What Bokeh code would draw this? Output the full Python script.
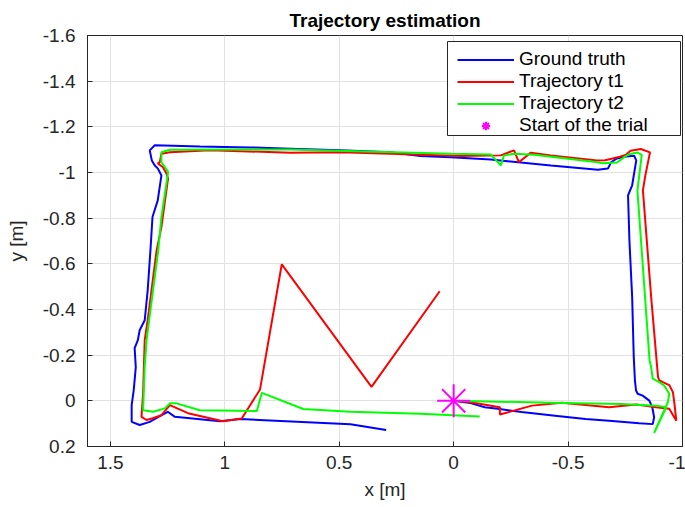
from bokeh.plotting import figure
from bokeh.models import Range1d, FixedTicker, Legend, LegendItem, BoxAnnotation
from bokeh.embed import file_html
from bokeh.resources import INLINE

# ---- data (metres) ----
gt_x = [0.0, -0.074, -0.136, -0.193, -0.297, -0.443, -0.576, -0.679, -0.811, -0.870,
        -0.876, -0.868, -0.855, -0.826, -0.804, -0.797, -0.792, -0.787, -0.780, -0.768,
        -0.762, -0.780, -0.798, -0.789, -0.744, -0.710, -0.688, -0.674, -0.630, -0.425,
        -0.162, 0.013, 0.145, 0.276, 0.495, 0.714, 0.890, 1.109, 1.306, 1.328,
        1.319, 1.306, 1.293, 1.277, 1.293, 1.316, 1.325, 1.337, 1.350, 1.372,
        1.380, 1.394, 1.389, 1.398, 1.407, 1.407, 1.372, 1.328, 1.284, 1.249,
        1.218, 1.021, 0.933, 0.451, 0.295]
gt_y = [0.0, 0.010, 0.028, 0.035, 0.049, 0.065, 0.080, 0.087, 0.098, 0.102,
        0.072, 0.028, -0.001, -0.023, -0.031, -0.045, -0.091, -0.192, -0.455, -0.703,
        -0.900, -0.944, -1.053, -1.073, -1.069, -1.060, -1.045, -1.017, -1.012, -1.031,
        -1.057, -1.067, -1.072, -1.089, -1.097, -1.104, -1.110, -1.114, -1.119, -1.097,
        -1.053, -1.031, -1.018, -0.987, -0.878, -0.805, -0.659, -0.484, -0.353, -0.309,
        -0.266, -0.231, -0.147, -0.047, 0.019, 0.092, 0.106, 0.092, 0.067, 0.048,
        0.070, 0.089, 0.080, 0.103, 0.128]

t1_x = [0.0, -0.074, -0.202, -0.202, -0.342, -0.473, -0.679, -0.798, -0.885, -0.942,
        -0.973, -0.964, -0.958, -0.942, -0.914, -0.898, -0.893, -0.863, -0.827, -0.837,
        -0.858, -0.818, -0.773, -0.751, -0.727, -0.662, -0.627, -0.425, -0.337, -0.285,
        -0.264, -0.206, -0.031, 0.276, 0.495, 0.714, 1.065, 1.240, 1.277, 1.284,
        1.293, 1.271, 1.255, 1.248, 1.277, 1.298, 1.337, 1.350, 1.357, 1.364,
        1.342, 1.315, 1.277, 1.240, 1.161, 1.008, 0.926, 0.846, 0.751, 0.359,
        0.061]
t1_y = [0.0, 0.006, 0.028, 0.060, 0.021, 0.008, 0.028, 0.016, 0.028, 0.035,
        0.087, 0.006, -0.038, -0.069, -0.082, -0.091, -0.105, -0.455, -0.922, -0.984,
        -1.088, -1.103, -1.095, -1.077, -1.069, -1.054, -1.053, -1.075, -1.087, -1.045,
        -1.097, -1.075, -1.072, -1.082, -1.089, -1.087, -1.097, -1.089, -1.082, -1.045,
        -1.040, -1.024, -0.996, -0.974, -0.761, -0.659, -0.353, -0.266, -0.034, 0.070,
        0.084, 0.076, 0.063, 0.019, 0.054, 0.089, 0.077, -0.050, -0.598, -0.061,
        -0.480]

t2_x = [0.0, -0.421, -0.732, -0.885, -0.929, -0.876, -0.936, -0.942, -0.920, -0.898,
        -0.870, -0.863, -0.856, -0.803, -0.822, -0.802, -0.766, -0.744, -0.714, -0.647,
        -0.630, -0.351, -0.264, -0.220, -0.206, -0.162, 0.013, 0.714, 1.240, 1.277,
        1.277, 1.262, 1.248, 1.255, 1.277, 1.291, 1.342, 1.350, 1.357, 1.313,
        1.262, 1.240, 1.211, 1.109, 0.860, 0.838, 0.657, 0.451, 0.145, -0.114]
t2_y = [0.0, 0.008, 0.014, 0.021, 0.028, 0.141, 0.006, -0.031, -0.067, -0.082,
        -0.097, -0.147, -0.178, -0.922, -1.077, -1.088, -1.080, -1.066, -1.044, -1.040,
        -1.045, -1.078, -1.082, -1.075, -1.031, -1.079, -1.082, -1.101, -1.100, -1.089,
        -1.045, -1.024, -1.002, -0.952, -0.805, -0.659, -0.266, -0.149, 0.041, 0.048,
        0.033, 0.011, 0.011, 0.041, 0.045, -0.035, 0.036, 0.048, 0.057, 0.069]

start_x = [0.0]
start_y = [0.0]

x_ticks = [1.5, 1.0, 0.5, 0.0, -0.5, -1.0]
x_tick_labels = ["1.5", "1", "0.5", "0", "-0.5", "-1"]
y_ticks = [-1.6, -1.4, -1.2, -1.0, -0.8, -0.6, -0.4, -0.2, 0.0, 0.2]
y_tick_labels = ["-1.6", "-1.4", "-1.2", "-1", "-0.8", "-0.6", "-0.4", "-0.2", "0", "0.2"]

FONT = "Liberation Sans"
DARK = "#262626"

p = figure(width=685, height=507,
           x_range=Range1d(1.6, -1.0), y_range=Range1d(0.2, -1.6),
           output_backend="svg", toolbar_location=None,
           min_border_left=87, min_border_right=3,
           min_border_top=35, min_border_bottom=61,
           title="Trajectory estimation")

p.title.text_font = FONT
p.title.text_font_size = "19px"
p.title.text_font_style = "bold"
p.title.text_color = "#000000"
p.title.align = "center"
p.title.standoff = 10

p.outline_line_color = DARK
p.outline_line_alpha = 1.0
p.outline_line_width = 1

p.xaxis.ticker = FixedTicker(ticks=x_ticks)
p.yaxis.ticker = FixedTicker(ticks=y_ticks)
p.xaxis.major_label_overrides = dict(zip(x_ticks, x_tick_labels))
p.yaxis.major_label_overrides = dict(zip(y_ticks, y_tick_labels))

for ax in (p.xaxis, p.yaxis):
    ax.axis_line_color = DARK
    ax.major_tick_line_color = DARK
    ax.major_tick_in = 5
    ax.major_tick_out = 0
    ax.minor_tick_line_color = None
    ax.major_label_text_font = FONT
    ax.major_label_text_font_size = "19px"
    ax.major_label_text_color = DARK
    ax.axis_label_text_font = FONT
    ax.axis_label_text_font_size = "19px"
    ax.axis_label_text_font_style = "normal"
    ax.axis_label_text_color = DARK

p.xaxis.axis_label = "x [m]"
p.yaxis.axis_label = "y [m]"
p.xaxis.major_label_standoff = 9
p.xaxis.axis_label_standoff = 7
p.yaxis.major_label_standoff = 12
p.yaxis.axis_label_standoff = 13

p.grid.grid_line_color = "#e2e2e2"
p.grid.grid_line_width = 1

r_gt = p.line(gt_x, gt_y, line_color="#0000ff", line_width=2)
r_t1 = p.line(t1_x, t1_y, line_color="#ff0000", line_width=2)
r_t2 = p.line(t2_x, t2_y, line_color="#00ff00", line_width=2)
r_st = p.scatter(start_x, start_y, marker="asterisk", size=33,
                 line_color="#ff00ff", line_width=2)

# legend frame (screen px, relative to plot frame bottom-left)
legend_box = BoxAnnotation(left=360, right=593, bottom=311, top=405,
                           left_units="screen", right_units="screen",
                           bottom_units="screen", top_units="screen",
                           fill_color="#ffffff", fill_alpha=1.0,
                           line_color=DARK, line_width=1, line_alpha=1.0)
p.add_layout(legend_box)

legend = Legend(items=[
    LegendItem(label="Ground truth", renderers=[r_gt]),
    LegendItem(label="Trajectory t1", renderers=[r_t1]),
    LegendItem(label="Trajectory t2", renderers=[r_t2]),
    LegendItem(label="Start of the trial", renderers=[r_st]),
], location=(370, 310))
legend.label_text_font = FONT
legend.label_text_font_size = "19px"
legend.label_text_color = "#000000"
legend.padding = 4
legend.spacing = 0
legend.margin = 0
legend.glyph_width = 57
legend.glyph_height = 21
legend.label_height = 21
legend.label_standoff = 5
legend.border_line_color = None
legend.background_fill_alpha = 0.0
p.add_layout(legend, "center")

open("out.html", "w").write(file_html(p, INLINE))
